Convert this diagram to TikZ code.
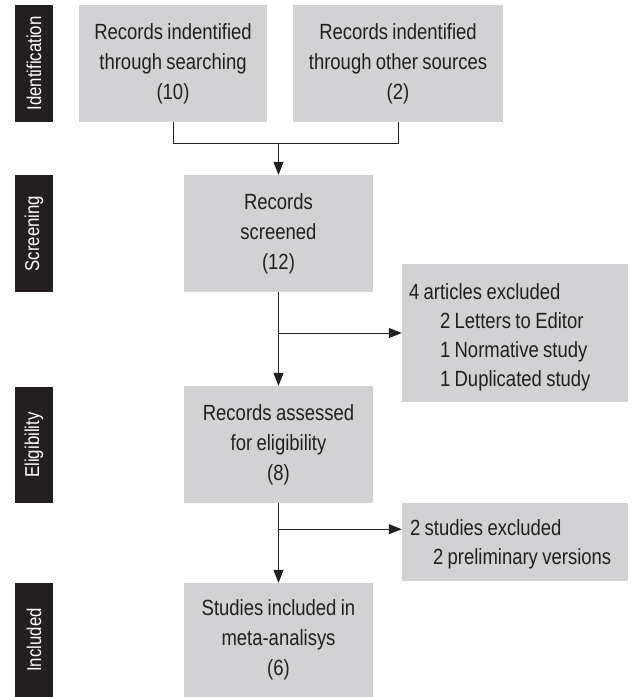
\documentclass[tikz,border=0pt]{standalone}
\usepackage{fontspec}
\setmainfont{Liberation Sans}[FakeStretch=0.84,WordSpace=0.85]
\usetikzlibrary{arrows.meta,calc}
\definecolor{ink}{RGB}{35,31,32}
\definecolor{boxgray}{RGB}{209,210,212}
\tikzset{
  stagebar/.style={fill=ink,text=white,inner sep=0pt,rotate=90,font=\fontsize{20}{24}\selectfont},
  graybox/.style={fill=boxgray,text=ink,inner sep=0pt,align=center,font=\fontsize{22}{30}\selectfont},
  plainbox/.style={fill=boxgray,inner sep=0pt},
  listtext/.style={text=ink,inner sep=0pt,align=left,anchor=west,font=\fontsize{22}{29}\selectfont},
  conn/.style={draw=ink,line width=1pt},
  arr/.style={conn,-{Triangle[length=13pt,width=10pt]}}
}
\begin{document}
\begin{tikzpicture}[x=1pt,y=-1pt]
\useasboundingbox (0,0) rectangle (633,697);
% stage bars
\node[stagebar,minimum width=117pt,minimum height=38pt] (bar1) at (34,63.5) {Identification};
\node[stagebar,minimum width=117pt,minimum height=38pt] (bar2) at (34,233.5) {Screening};
\node[stagebar,minimum width=116pt,minimum height=38pt] (bar3) at (34,445) {Eligibility};
\node[stagebar,minimum width=114pt,minimum height=38pt] (bar4) at (34,640) {Included};
% boxes
\node[graybox,minimum width=188pt,minimum height=117pt] (b1) at (173,63.5) {Records indentified\\through searching\\(10)};
\node[graybox,minimum width=210pt,minimum height=117pt] (b2) at (398,63.5) {Records indentified\\through other sources\\(2)};
\node[graybox,minimum width=189pt,minimum height=117pt] (b3) at (278.5,233.5) {Records\\screened\\(12)};
\node[plainbox,minimum width=226pt,minimum height=138pt] (b5) at (515,333) {};
\node[listtext] (b5t) at ($(b5.west)+(7,4)$) {4 articles excluded\\\hspace*{31pt}2 Letters to Editor\\\hspace*{31pt}1 Normative study\\\hspace*{31pt}1 Duplicated study};
\node[graybox,minimum width=189pt,minimum height=117pt] (b4) at (278.5,444.5) {Records assessed\\for eligibility\\(8)};
\node[plainbox,minimum width=226pt,minimum height=78pt] (b6) at (515,542) {};
\node[listtext] (b6t) at ($(b6.west)+(8,2.5)$) {2 studies excluded\\\hspace*{23pt}2 preliminary versions};
\node[graybox,minimum width=189pt,minimum height=114pt] (b7) at (278.5,640) {Studies included in\\meta-analisys\\(6)};
% connectors
\coordinate (j1) at ($(b3.north)+(0,-31)$);
\draw[conn] (b1.south) |- (j1);
\draw[conn] (b2.south) |- (j1);
\draw[arr] (j1) -- (b3.north);
\draw[arr] (b3.south) -- (b4.north);
\coordinate (s1) at (b3.south |- b5.west);
\draw[arr] (s1) -- (b5.west);
\draw[arr] (b4.south) -- (b7.north);
\coordinate (s2) at ($(b4.south)+(0,26)$);
\draw[arr] (s2) -- (s2 -| b6.west);
\end{tikzpicture}
\end{document}
